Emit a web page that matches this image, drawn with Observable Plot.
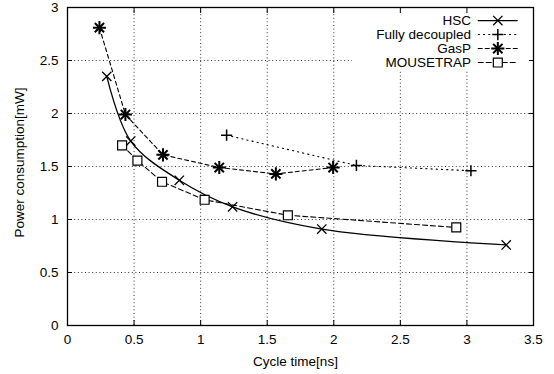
<!DOCTYPE html>
<html><head><meta charset="utf-8">
<script src="https://cdn.jsdelivr.net/npm/d3@7"></script>
<script src="https://cdn.jsdelivr.net/npm/@observablehq/plot@0.6"></script>
<style>
body{margin:0;background:#fff}
#chart svg{font-family:"Liberation Sans",Arial,sans-serif}
</style>
</head><body><div id="chart"></div>
<script>
const seriesNames = ["HSC", "Fully decoupled", "GasP", "MOUSETRAP"];
const hscX  = [0.295, 0.475, 0.84, 1.24, 1.91, 3.295];
const hscY  = [2.35, 1.74, 1.37, 1.12, 0.91, 0.76];
const fdX   = [1.195, 2.17, 3.03];
const fdY   = [1.795, 1.51, 1.46];
const gaspX = [0.24, 0.435, 0.717, 1.14, 1.565, 1.995];
const gaspY = [2.81, 1.99, 1.61, 1.49, 1.43, 1.49];
const mtX   = [0.41, 0.525, 0.71, 1.03, 1.655, 2.92];
const mtY   = [1.70, 1.556, 1.356, 1.186, 1.04, 0.925];
const xTicks = [0, 0.5, 1, 1.5, 2, 2.5, 3, 3.5];
const yTicks = [0, 0.5, 1, 1.5, 2, 2.5, 3];

const pts = (xs, ys) => xs.map((x, i) => ({x, y: ys[i]}));
const hsc = pts(hscX, hscY), fd = pts(fdX, fdY), gasp = pts(gaspX, gaspY), mt = pts(mtX, mtY);

// legend rows (placed inside the frame, top-right)
const styles = [
  {dash: null, sym: ["times"], r: 4.3, sw: 1.3},
  {dash: "1.2,4", sym: ["plus"], r: 3.7, sw: 1.5},
  {dash: "4,3", sym: ["plus", "times"], r: 4.3, sw: 2},
  {dash: "5,3", sym: ["square2"], r: 5.7, sw: 1.2}
];
const legendTop = 2.877, legendStep = 0.132;
const legend = seriesNames.map((name, i) => ({name, i, y: legendTop - i * legendStep}));
const legTextX = 3.03, legL0 = 3.085, legL1 = 3.378, legM = 3.232;

const fmt = d => String(d);
const marks = [
  Plot.gridX(xTicks, {stroke: "#333", strokeOpacity: 1, strokeDasharray: "1,2.6", strokeWidth: 1}),
  Plot.gridY(yTicks, {stroke: "#333", strokeOpacity: 1, strokeDasharray: "1,2.6", strokeWidth: 1}),
  Plot.rect([{}], {x1: 2.14, x2: 3.5, y1: 2.405, y2: 3, fill: "#fff"}),
];
const data = [hsc, fd, gasp, mt];
data.forEach((d, i) => {
  const s = styles[i];
  marks.push(Plot.line(d, {x: "x", y: "y", stroke: "#000", strokeWidth: i === 0 ? 1.3 : 1.1,
    strokeDasharray: s.dash, curve: i === 0 ? "catmull-rom" : "linear"}));
  s.sym.forEach(sym => marks.push(Plot.dot(d, {x: "x", y: "y", symbol: () => sym, r: s.r,
    stroke: "#000", fill: sym === "square2" ? "#fff" : "none", strokeWidth: s.sw})));
});
// legend
marks.push(Plot.text(legend, {x: legTextX, y: "y", text: "name", textAnchor: "end", fontSize: 13.5, fill: "#000"}));
legend.forEach(row => {
  const s = styles[row.i];
  marks.push(Plot.line([{x: legL0, y: row.y}, {x: legL1, y: row.y}], {x: "x", y: "y", stroke: "#000",
    strokeWidth: row.i === 0 ? 1.3 : 1.1, strokeDasharray: s.dash}));
  s.sym.forEach(sym => marks.push(Plot.dot([{x: legM, y: row.y}], {x: "x", y: "y", symbol: () => sym, r: s.r,
    stroke: "#000", fill: sym === "square2" ? "#fff" : "none", strokeWidth: s.sw})));
});
marks.push(
  Plot.axisX(xTicks, {anchor: "bottom", tickSize: -5, tickPadding: 14, tickFormat: fmt, fontSize: 13.5,
    label: null}),
  Plot.axisX(xTicks, {anchor: "top", tickSize: -5, tickFormat: () => "", label: null}),
  Plot.axisY(yTicks, {anchor: "left", tickSize: -5, tickPadding: 14, tickFormat: fmt, fontSize: 13.5,
    label: null}),
  Plot.axisY(yTicks, {anchor: "right", tickSize: -5, tickFormat: () => "", label: null}),
  Plot.text(["Cycle time[ns]"], {frameAnchor: "bottom", dx: -5, dy: 36, fontSize: 13.5, fill: "#000",
    textAnchor: "middle", lineAnchor: "middle"}),
  Plot.text(["Power consumption[mW]"], {frameAnchor: "left", dx: -48, dy: -4, rotate: -90, fontSize: 13.5,
    fill: "#000", textAnchor: "middle", lineAnchor: "middle"}),
  Plot.frame({stroke: "#000", strokeWidth: 1.3})
);

const chart = Plot.plot({
  width: 554, height: 374,
  marginLeft: 67, marginRight: 21, marginTop: 7, marginBottom: 49,
  x: {domain: [0, 3.5]},
  y: {domain: [0, 3]},
  style: {fontSize: "13.5px", color: "#000", background: "#fff"},
  marks
});
document.getElementById("chart").appendChild(chart);
</script>
</body></html>
